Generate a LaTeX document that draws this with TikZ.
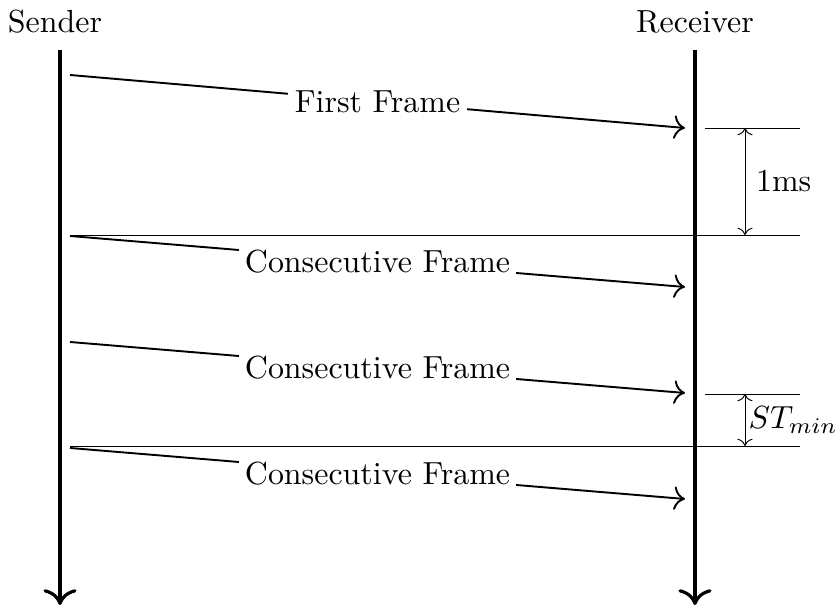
\documentclass[tikz,border=0pt]{standalone}
\usetikzlibrary{positioning,arrows.meta}
\begin{document}
\begin{tikzpicture}[x=0.011cm,y=-0.011cm,
  lifeline/.style={-{To[scale=1.3]},line width=1pt},
  framearrow/.style={-{To[scale=1.2]},semithick},
  framelabel/.style={fill=white,inner sep=2pt},
  tickline/.style={line width=0.3pt},
  gaparrow/.style={<->,line width=0.3pt}]
\useasboundingbox (0,0) rectangle (836,607);
% ---------- Teilnehmer ----------
\node (snd) at (55,22) {Sender};
\node (rcv) at (695,22) {Receiver};
\coordinate (sndtop) at (60,50);
\coordinate (sndbot) at (60,605);
\coordinate (rcvtop) at (695,50);
\coordinate (rcvbot) at (695,605);
\draw[lifeline] (sndtop) -- (sndbot);
\draw[lifeline] (rcvtop) -- (rcvbot);
% ---------- Frames ----------
\coordinate (s1) at (70,75);   \coordinate (r1) at (685,128);
\coordinate (s2) at (70,236);  \coordinate (r2) at (685,287);
\coordinate (s3) at (70,342);  \coordinate (r3) at (685,393);
\coordinate (s4) at (70,448);  \coordinate (r4) at (685,499);
\draw[framearrow] (s1) -- node[framelabel] (ff) {First Frame} (r1);
\draw[framearrow] (s2) -- node[framelabel] (cf1) {Consecutive Frame} (r2);
\draw[framearrow] (s3) -- node[framelabel] (cf2) {Consecutive Frame} (r3);
\draw[framearrow] (s4) -- node[framelabel] (cf3) {Consecutive Frame} (r4);
% ---------- Zeitmarken ----------
\coordinate (t1a) at (705,128); \coordinate (t1b) at (800,128);
\coordinate (t2a) at (70,235);  \coordinate (t2b) at (800,235);
\coordinate (t3a) at (705,394); \coordinate (t3b) at (800,394);
\coordinate (t4a) at (70,446);  \coordinate (t4b) at (800,446);
\draw[tickline] (t1a) -- (t1b);
\draw[tickline] (t2a) -- (t2b);
\draw[tickline] (t3a) -- (t3b);
\draw[tickline] (t4a) -- (t4b);
\coordinate (g1a) at (745,128); \coordinate (g1b) at (745,235);
\coordinate (g2a) at (745,394); \coordinate (g2b) at (745,446);
\draw[gaparrow] (g1a) -- node[right] (ms) {1ms} (g1b);
\draw[gaparrow] (g2a) -- node[right,inner sep=1pt] (stmin) {$ST_{min}$} (g2b);
\end{tikzpicture}
\end{document}
